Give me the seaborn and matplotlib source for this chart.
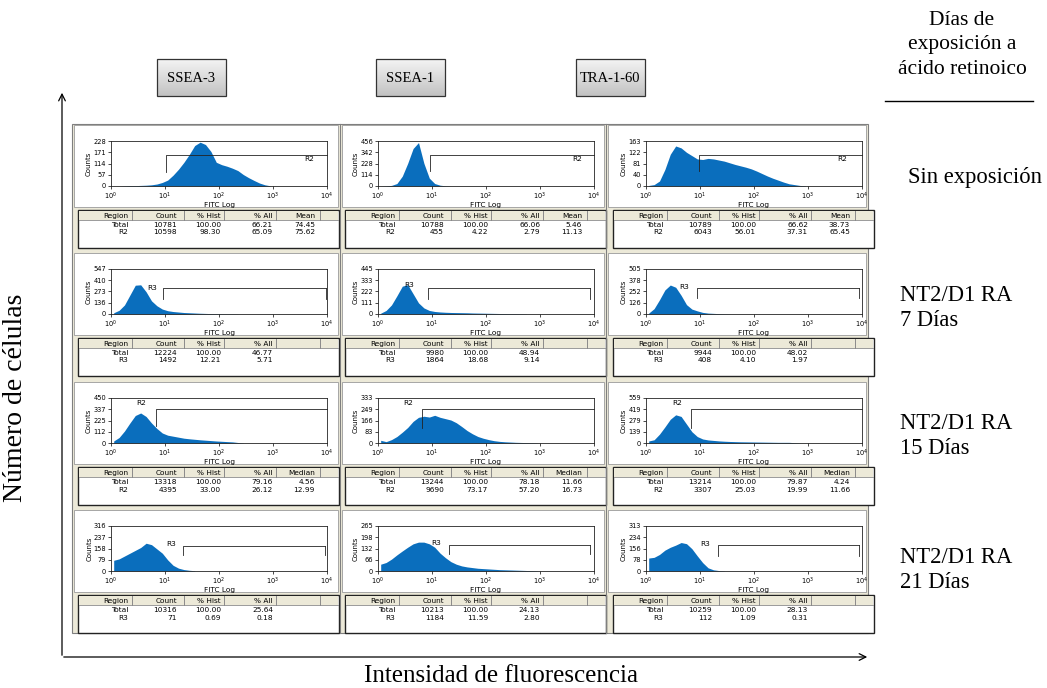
import numpy as np
import pandas as pd
import seaborn as sns
import matplotlib.pyplot as plt
from matplotlib.patches import Rectangle
from matplotlib.colors import LinearSegmentedColormap

W, H = 1047, 688
plt.rcParams['font.family'] = ['DejaVu Sans']
SERIF = ['Liberation Serif', 'DejaVu Serif']

markers = ["SSEA-3", "SSEA-1", "TRA-1-60"]
conditions = ["Sin exposición", "NT2/D1 RA\n7 Días", "NT2/D1 RA\n15 Días", "NT2/D1 RA\n21 Días"]
gate_names = ["R2", "R3", "R2", "R3"]
last_stat = ["Mean", "", "Median", ""]

# counts per 0.1-decade channel group, starting at 10^0
ssea3_d0 = [0, 0, 1, 2, 2, 3, 4, 6, 10, 18, 30, 55, 85, 120, 160, 205, 222, 210, 175, 120,
            108, 100, 90, 78, 58, 42, 28, 15, 6, 1]
ssea1_d0 = [0, 2, 6, 25, 100, 230, 380, 440, 230, 80, 25, 8, 2, 0]
tra160_d0 = [2, 5, 18, 60, 115, 145, 138, 122, 110, 98, 96, 100, 98, 94, 90, 84, 78, 73, 68, 62,
             54, 45, 36, 28, 21, 14, 8, 5, 2, 1]
ssea3_d7 = [15, 45, 110, 230, 350, 355, 270, 160, 100, 60, 40, 30, 24, 18, 15, 12, 9, 7, 5, 4,
            3, 2, 2, 1]
ssea1_d7 = [8, 35, 90, 180, 275, 290, 200, 110, 60, 35, 25, 20, 17, 15, 14, 13, 12, 10, 9, 8,
            7, 6, 5, 4, 3, 3, 2, 1]
tra160_d7 = [10, 60, 160, 270, 325, 300, 210, 105, 55, 35, 18, 10, 7, 4, 2, 1]
ssea3_d15 = [20, 55, 120, 200, 275, 300, 265, 200, 145, 100, 78, 68, 58, 48, 42, 37, 32, 28, 24, 20,
             17, 14, 11, 5, 1]
ssea1_d15 = [20, 10, 25, 48, 80, 115, 160, 190, 198, 192, 205, 190, 180, 170, 150, 122, 92, 68, 48, 35,
             25, 17, 12, 9, 7, 5, 4, 3, 2, 1]
tra160_d15 = [25, 40, 110, 200, 295, 350, 330, 235, 140, 80, 50, 38, 32, 26, 22, 19, 17, 15, 14, 13,
              12, 11, 10, 9, 8, 8, 8, 4, 1]
ssea3_d21 = [75, 85, 105, 125, 145, 165, 195, 185, 155, 125, 78, 40, 20, 10, 5, 2]
ssea1_d21 = [40, 50, 70, 95, 118, 140, 160, 170, 170, 160, 140, 105, 78, 55, 40, 30, 24, 20, 16, 14,
             12, 10, 8, 7, 6, 5, 4, 3, 2, 1]
tra160_d21 = [90, 95, 115, 145, 165, 180, 198, 190, 155, 105, 58, 22, 8, 3, 1]

hists = [[ssea3_d0, ssea1_d0, tra160_d0],
         [ssea3_d7, ssea1_d7, tra160_d7],
         [ssea3_d15, ssea1_d15, tra160_d15],
         [ssea3_d21, ssea1_d21, tra160_d21]]

ymax = [[228, 456, 163], [547, 445, 505], [450, 333, 559], [316, 265, 313]]
ytick_labels = [[[0, 57, 114, 171, 228], [0, 114, 228, 342, 456], [0, 40, 81, 122, 163]],
                [[0, 136, 273, 410, 547], [0, 111, 222, 333, 445], [0, 126, 252, 378, 505]],
                [[0, 112, 225, 337, 450], [0, 83, 166, 249, 333], [0, 139, 279, 419, 559]],
                [[0, 79, 158, 237, 316], [0, 66, 132, 198, 265], [0, 78, 156, 234, 313]]]
xtick_labels = ['$10^0$', '$10^1$', '$10^2$', '$10^3$', '$10^4$']

tables = [
    [[["Total", "10781", "100.00", "66.21", "74.45"], ["R2", "10598", "98.30", "65.09", "75.62"]],
     [["Total", "10788", "100.00", "66.06", "5.46"], ["R2", "455", "4.22", "2.79", "11.13"]],
     [["Total", "10789", "100.00", "66.62", "38.73"], ["R2", "6043", "56.01", "37.31", "65.45"]]],
    [[["Total", "12224", "100.00", "46.77"], ["R3", "1492", "12.21", "5.71"]],
     [["Total", "9980", "100.00", "48.94"], ["R3", "1864", "18.68", "9.14"]],
     [["Total", "9944", "100.00", "48.02"], ["R3", "408", "4.10", "1.97"]]],
    [[["Total", "13318", "100.00", "79.16", "4.56"], ["R2", "4395", "33.00", "26.12", "12.99"]],
     [["Total", "13244", "100.00", "78.18", "11.66"], ["R2", "9690", "73.17", "57.20", "16.73"]],
     [["Total", "13214", "100.00", "79.87", "4.24"], ["R2", "3307", "25.03", "19.99", "11.66"]]],
    [[["Total", "10316", "100.00", "25.64"], ["R3", "71", "0.69", "0.18"]],
     [["Total", "10213", "100.00", "24.13"], ["R3", "1184", "11.59", "2.80"]],
     [["Total", "10259", "100.00", "28.13"], ["R3", "112", "1.09", "0.31"]]],
]

# gate brackets (log10 x, axes-fraction y)
gate_lo = [[1.02, 0.96, 0.99], [0.96, 0.92, 0.94], [0.84, 0.81, 0.83], [1.34, 1.32, 1.34]]
gate_hi = [[4.0, 4.0, 4.0], [3.99, 3.92, 3.95], [4.0, 4.0, 4.0], [3.96, 3.92, 3.95]]
gate_y = [[0.70, 0.70, 0.70], [0.575, 0.58, 0.58], [0.765, 0.75, 0.75], [0.566, 0.577, 0.57]]
gate_tick = [[0.31, 0.33, 0.33], [0.33, 0.33, 0.35], [0.37, 0.34, 0.34], [0.345, 0.385, 0.336]]
label_pos = [[(3.57, 0.59), (3.59, 0.61), (3.54, 0.60)],
             [(0.67, 0.575), (0.49, 0.64), (0.62, 0.61)],
             [(0.46, 0.88), (0.46, 0.88), (0.48, 0.88)],
             [(1.02, 0.60), (0.98, 0.615), (1.0, 0.59)]]

# layout in pixels
col_left = [72, 340, 606, 868]
ax_x0 = [111, 378, 646]
ax_yb = [186, 314, 443, 571]
AX_W, AX_H = 216, 45
BLUE = '#0a6ebd'
BEIGE = '#ece9d8'

fig = plt.figure(figsize=(W / 100, H / 100), dpi=100)
bg = fig.add_axes([0, 0, 1, 1])
bg.set_axis_off()

# outer frame
bg.add_patch(Rectangle((72, 124), 796, 509, facecolor=BEIGE, edgecolor='#7f7f7f', lw=0.8))
for c in range(3):
    for r in range(4):
        xl = col_left[c] + 2
        wc = col_left[c + 1] - col_left[c] - 4
        yb = ax_yb[r]
        bg.add_patch(Rectangle((xl, yb - 61), wc, 82, facecolor='white', edgecolor='#9a9a9a', lw=0.6))
        # table
        x0 = ax_x0[c]
        bg.add_patch(Rectangle((x0 - 33, yb + 24), 261, 38, facecolor='white', edgecolor='#222222', lw=1.0))
        bg.add_patch(Rectangle((x0 - 32, yb + 25), 259, 9, facecolor=BEIGE, edgecolor='none'))
        for sep in [20.5, 72.5, 112.5, 165, 209]:
            bg.plot([x0 + sep, x0 + sep], [yb + 25, yb + 34], color='#8a8a8a', lw=0.7)
        bg.plot([x0 - 32, x0 + 227], [yb + 34, yb + 34], color='#8a8a8a', lw=0.6)
        header = ["Region", "Count", "% Hist", "% All", last_stat[r]]
        rights = [17, 66, 110, 162, 204]
        for k, txt in enumerate(header):
            bg.text(x0 + rights[k], yb + 29.8, txt, ha='right', va='center', fontsize=5.3)
        for i, row in enumerate(tables[r][c]):
            for k, txt in enumerate(row):
                bg.text(x0 + rights[k], yb + 39 + 7.5 * i, txt, ha='right', va='center', fontsize=5.3)
    if c > 0:
        bg.plot([col_left[c], col_left[c]], [124, 633], color='#7f7f7f', lw=0.8)

# column header boxes
grad = LinearSegmentedColormap.from_list('g', ['#f4f4f4', '#c2c2c2'])
box_x = [157, 376, 576]
for k, name in enumerate(markers):
    bx = box_x[k]
    bg.imshow(np.linspace(0, 1, 60).reshape(-1, 1), cmap=grad, aspect='auto',
              extent=(bx, bx + 69, 96, 59), origin='upper', zorder=1)
    bg.add_patch(Rectangle((bx, 59), 69, 37, facecolor='none', edgecolor='#333333', lw=0.9, zorder=2))
    bg.text(bx + 34.5, 78, name, ha='center', va='center', fontsize=10.5, family=SERIF, zorder=3)

# right side labels
bg.text(962, 45, "Días de\nexposición a\nácido retinoico", ha='center', va='center',
        multialignment='center', fontsize=15.5, family=SERIF, linespacing=1.42)
bg.plot([885, 1033], [101, 101], color='black', lw=1.0)
bg.text(908, 177, conditions[0], ha='left', va='center', fontsize=16.3, family=SERIF)
cond_y = [308, 436, 570]
for k in range(3):
    bg.text(900, cond_y[k], conditions[k + 1], ha='left', va='center', fontsize=16.3,
            family=SERIF, linespacing=1.3)

# axes arrows and labels
bg.annotate('', xy=(62, 90), xytext=(62, 658),
            arrowprops=dict(arrowstyle='->', lw=0.9, color='black', mutation_scale=12))
bg.annotate('', xy=(870, 657), xytext=(61, 657),
            arrowprops=dict(arrowstyle='->', lw=0.9, color='black', mutation_scale=12))
bg.text(16, 398, "Número de células", rotation=90, ha='center', va='center', fontsize=20, family=SERIF)
bg.text(501, 676, "Intensidad de fluorescencia", ha='center', va='center', fontsize=18, family=SERIF)

bg.set_xlim(0, W)
bg.set_ylim(H, 0)

# histograms
for r in range(4):
    for c in range(3):
        h = hists[r][c]
        edges = [round(k * 0.1, 2) for k in range(len(h) + 1)]
        df = pd.DataFrame({'logx': [e + 0.05 for e in edges[:-1]], 'n': h})
        x0, yb = ax_x0[c], ax_yb[r]
        ax = fig.add_axes([x0 / W, 1 - yb / H, AX_W / W, AX_H / H])
        sns.histplot(data=df, x='logx', weights='n', bins=edges, element='poly', fill=True,
                     color=BLUE, alpha=1, linewidth=0, ax=ax)
        ax.set_xlim(0, 4)
        ax.set_ylim(0, ymax[r][c])
        ax.set_xticks(range(5))
        ax.set_xticklabels(xtick_labels)
        yt = ytick_labels[r][c]
        ax.set_yticks([ymax[r][c] * k / 4 for k in range(5)])
        ax.set_yticklabels([str(v) for v in yt])
        ax.tick_params(labelsize=4.8, length=2.5, width=0.5, pad=1)
        for s in ax.spines.values():
            s.set_linewidth(0.6)
            s.set_color('#222222')
        ax.set_xlabel('FITC Log', fontsize=5.3, labelpad=0)
        ax.set_ylabel('Counts', fontsize=5, labelpad=1)
        tr = ax.get_xaxis_transform()
        lo, hi, gy, gt = gate_lo[r][c], gate_hi[r][c], gate_y[r][c], gate_tick[r][c]
        ax.plot([lo, lo, hi], [gt, gy, gy], color='#222222', lw=0.6, transform=tr, clip_on=False)
        if gate_names[r] == 'R3':
            ax.plot([hi, hi], [gy, gt], color='#222222', lw=0.6, transform=tr)
        lx, ly = label_pos[r][c]
        ax.text(lx, ly, gate_names[r], fontsize=5.3, transform=tr, ha='left', va='center')

fig.savefig('out.png', dpi=100, facecolor='white')
